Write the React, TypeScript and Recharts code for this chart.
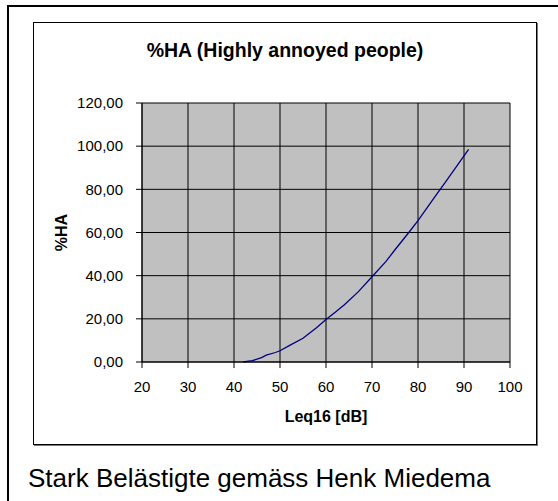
import { LineChart, Line, XAxis, YAxis, CartesianGrid } from "recharts";

// Leq16 level in dB and % highly annoyed
const LEQ_DB = [42, 44, 46, 47, 49, 50, 52, 55, 58, 60, 62, 64, 67, 70, 73, 75, 78, 80, 82, 84, 86, 88, 90, 91];
const HA_PCT = [0, 0.6, 2, 3.2, 4.4, 5.2, 7.6, 11, 16, 19.7, 23, 26.5, 32.5, 39.5, 46.5, 52, 60, 65.5, 71.5, 77.5, 83.5, 89.5, 95.5, 98.5];

const X_TICKS = [20, 30, 40, 50, 60, 70, 80, 90, 100];
const Y_TICKS = [0, 20, 40, 60, 80, 100, 120];

const TITLE = "%HA (Highly annoyed people)";
const X_LABEL = "Leq16 [dB]";
const Y_LABEL = "%HA";
const CAPTION = "Stark Belästigte gemäss Henk Miedema";

const FONT = '"Liberation Sans", Arial, sans-serif';

const data = LEQ_DB.map((db, i) => ({ db, ha: HA_PCT[i] }));

const fmt = (v: number) => v.toFixed(2).replace(".", ",");

export default function App() {
  return (
    <div
      style={{
        position: "absolute",
        left: 0,
        top: 0,
        width: 558,
        height: 501,
        overflow: "hidden",
        background: "#fff",
        fontFamily: FONT,
      }}
    >
      {/* outer frame, runs off the right and bottom edges */}
      <div
        style={{
          position: "absolute",
          left: 7,
          top: 5,
          width: 600,
          height: 600,
          border: "2px solid #000",
        }}
      />
      {/* chart frame */}
      <div
        style={{
          position: "absolute",
          left: 33,
          top: 22,
          width: 504,
          height: 423,
          boxSizing: "border-box",
          border: "1px solid #000",
          boxShadow: "1px 1px 0 #777",
        }}
      />
      <div
        style={{
          position: "absolute",
          left: 33,
          width: 504,
          top: 38,
          textAlign: "center",
          fontSize: 19.5,
          fontWeight: "bold",
          lineHeight: "24px",
        }}
      >
        {TITLE}
      </div>
      <LineChart
        width={558}
        height={501}
        data={data}
        margin={{ top: 103, right: 48, bottom: 31, left: -20 }}
        style={{ position: "absolute", left: 0, top: 0 }}
      >
        <CartesianGrid fill="#c0c0c0" stroke="#000" strokeOpacity={1} />
        <XAxis
          dataKey="db"
          type="number"
          domain={[20, 100]}
          ticks={X_TICKS}
          interval={0}
          height={108}
          tickSize={6}
          tickMargin={13}
          stroke="#000"
          tick={{ fill: "#000", fontSize: 15, fontFamily: FONT }}
          label={{
            value: X_LABEL,
            position: "center",
            fill: "#000",
            fontSize: 16,
            fontWeight: "bold",
            fontFamily: FONT,
          }}
        />
        <YAxis
          type="number"
          domain={[0, 120]}
          ticks={Y_TICKS}
          interval={0}
          width={162}
          tickSize={6}
          tickMargin={13}
          stroke="#000"
          tickFormatter={fmt}
          tick={{ fill: "#000", fontSize: 15, fontFamily: FONT }}
          label={{
            value: Y_LABEL,
            position: "center",
            angle: -90,
            fill: "#000",
            fontSize: 16,
            fontWeight: "bold",
            fontFamily: FONT,
          }}
        />
        <Line
          type="linear"
          dataKey="ha"
          stroke="#000080"
          strokeWidth={1.3}
          dot={false}
          isAnimationActive={false}
        />
      </LineChart>
      <div
        style={{
          position: "absolute",
          left: 28,
          top: 463,
          fontSize: 26,
          lineHeight: "30px",
          whiteSpace: "nowrap",
        }}
      >
        {CAPTION}
      </div>
    </div>
  );
}
